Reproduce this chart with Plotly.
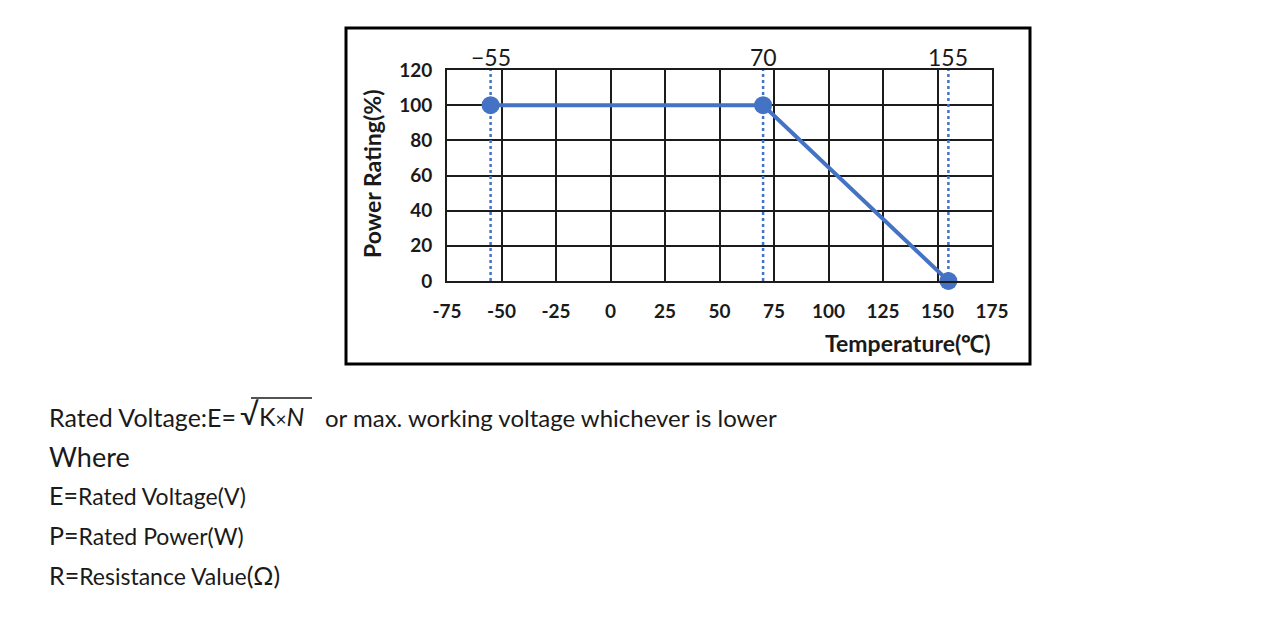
import plotly.graph_objects as go

# Derating curve: power rating vs ambient temperature
temps = [-55, 70, 155]
rating = [100, 100, 0]
marker_temps = [-55, 70, 155]
marker_labels = ["\u221255", "70", "155"]

x_ticks = [-75, -50, -25, 0, 25, 50, 75, 100, 125, 150, 175]
x_tick_text = ["-75", "-50", "-25", "0", "25", "50", "75", "100", "125", "150", "175"]
y_ticks = [0, 20, 40, 60, 80, 100, 120]

BLUE = "#4472C4"
GRID = "#1c1c1c"
TXT = "#1a1a1a"
FONT = "Lato"

# page has an 8px body margin; figure is sized to fit inside it
PAGE_PAD = 8
FIG_W, FIG_H = 1280 - 2 * PAGE_PAD, 619 - 2 * PAGE_PAD
# plot area in page pixels (left, top, width, height)
L, T, W, H = 447, 70, 545, 211


def px(x):
    return (x - L) / W


def py(y):
    return (T + H - y) / H


fig = go.Figure()

for t in marker_temps:
    fig.add_trace(go.Scatter(
        x=[t, t], y=[y_ticks[0], y_ticks[-1]],
        mode="lines",
        line=dict(color=BLUE, width=2.5, dash="dot"),
        hoverinfo="skip", showlegend=False,
    ))

fig.add_trace(go.Scatter(
    x=temps, y=rating,
    mode="lines+markers",
    line=dict(color=BLUE, width=4),
    marker=dict(color=BLUE, size=18),
    cliponaxis=False,
    showlegend=False,
))

annotations = []
for t, lab in zip(marker_temps, marker_labels):
    annotations.append(dict(
        x=t, xref="x", y=py(57), yref="paper", text=lab, showarrow=False,
        font=dict(family=FONT, size=23, color=TXT), xanchor="center", yanchor="middle",
    ))

annotations += [
    dict(x=px(372), y=py(174), xref="paper", yref="paper", text="<b>Power Rating(%)</b>",
         textangle=-90, xanchor="center", yanchor="middle", showarrow=False,
         font=dict(family=FONT, size=23, color=TXT)),
    dict(x=px(993), y=py(343), xref="paper", yref="paper", text="<b>Temperature(\u2103)</b>",
         xanchor="right", yanchor="middle", showarrow=False, font=dict(family=FONT, size=23, color=TXT)),
]

# notes under the chart
body = dict(family=FONT, color=TXT)
notes = [
    (47, 417, "Rated Voltage:E=", 25),
    (238, 413, "\u221a", 30),
    (257, 416, "K<span style='font-size:19px'>\u00d7</span><i>N</i>", 25),
    (323, 417, "or max. working voltage whichever is lower", 24),
    (47, 456, "Where", 27),
    (47, 495, "E=<span style='font-size:23px'>Rated Voltage(V)</span>", 25),
    (47, 535, "P=<span style='font-size:23px'>Rated Power(W)</span>", 25),
    (47, 575, "R=<span style='font-size:23px'>Resistance Value</span>(\u03a9)", 25),
]
for x, y, txt, size in notes:
    annotations.append(dict(
        x=px(x), y=py(y), xref="paper", yref="paper", text=txt, showarrow=False,
        xanchor="left", yanchor="middle", font=dict(size=size, **body),
    ))

shapes = [
    # outer frame
    dict(type="rect", xref="paper", yref="paper", x0=px(346), x1=px(1030), y0=py(364), y1=py(28),
         line=dict(color="black", width=3), fillcolor="rgba(0,0,0,0)", layer="below"),
    # radical overline
    dict(type="line", xref="paper", yref="paper", x0=px(251), x1=px(312), y0=py(398), y1=py(398),
         line=dict(color=TXT, width=1.5)),
]

axis_common = dict(
    showgrid=True, gridcolor=GRID, gridwidth=2,
    showline=True, linecolor=GRID, linewidth=2, mirror=True,
    zeroline=False, ticks="",
    tickfont=dict(family=FONT, size=19, color=TXT, weight="bold"),
)

fig.update_layout(
    width=FIG_W, height=FIG_H,
    margin=dict(l=L - PAGE_PAD, r=FIG_W - (L - PAGE_PAD) - W, t=T - PAGE_PAD, b=FIG_H - (T - PAGE_PAD) - H),
    paper_bgcolor="white", plot_bgcolor="white",
    xaxis=dict(range=[x_ticks[0], x_ticks[-1]], tickvals=x_ticks, ticktext=x_tick_text,
               ticklabelstandoff=12, **axis_common),
    yaxis=dict(range=[y_ticks[0], y_ticks[-1]], tickvals=y_ticks, ticklabelstandoff=9, **axis_common),
    annotations=annotations,
    shapes=shapes,
)

fig.write_html("out.html")
